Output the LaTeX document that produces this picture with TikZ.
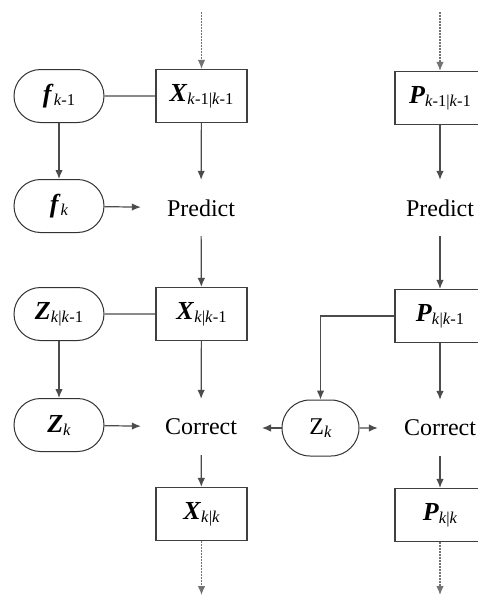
\documentclass[tikz,border=0pt]{standalone}
\usepackage{fontspec}
\setmainfont{Liberation Serif}
\usepackage{tikz}
\usetikzlibrary{arrows.meta, shapes.misc, positioning}

\newcommand{\bvec}[1]{{\fontsize{26}{28}\selectfont\textbf{\textit{#1}}}}
\newcommand{\sbs}[1]{\raisebox{-3pt}{\fontsize{16.5}{16}\selectfont #1}}
\newcommand{\kk}{\textit{k}}

\begin{document}
\begin{tikzpicture}[x=1pt, y=-1pt, >={Latex[length=9pt,width=7.5pt]},
    font=\fontsize{24}{28}\selectfont,
    line/.style={draw=black!70, line width=1.2pt},
    flow/.style={line, ->},
    nextstep/.style={draw=black!55, line width=1.2pt, dash pattern=on 2pt off 1pt, ->},
    statebox/.style={draw=black!75, line width=1.1pt, rectangle, minimum width=91pt, minimum height=53pt, inner sep=0pt},
    modelbox/.style={draw=black!80, line width=1pt, rounded rectangle, minimum width=90pt, minimum height=53pt, inner sep=0pt},
    stage/.style={minimum width=120pt, minimum height=56pt, inner sep=0pt}]
    \useasboundingbox (0,0) rectangle (477,597);

    % Zustand: linke Spalte
    \node[modelbox] (f1) at (59,96) {\bvec{f}\sbs{\kk-1}};
    \node[modelbox] (f2) at (59,206) {\bvec{f}\sbs{\kk}};
    \node[modelbox] (z1) at (59,314) {\bvec{Z}\sbs{\kk|\kk-1}};
    \node[modelbox] (z2) at (59,425) {\bvec{Z}\sbs{\kk}};

    \node[statebox] (x1) at (201.5,96) {\bvec{X}\sbs{\kk-1|\kk-1}};
    \node[stage] (pr1) at (201,208) {Predict};
    \node[statebox] (x2) at (201.5,314) {\bvec{X}\sbs{\kk|\kk-1}};
    \node[stage] (co1) at (201,427) {Correct};
    \node[statebox] (x3) at (201.5,514) {\bvec{X}\sbs{\kk|\kk}};

    % Kovarianz: rechte Spalte
    \node[statebox, minimum width=90pt] (p1) at (440,98) {\bvec{P}\sbs{\kk-1|\kk-1}};
    \node[stage] (pr2) at (440,208) {Predict};
    \node[statebox, minimum width=90pt] (p2) at (440,316) {\bvec{P}\sbs{\kk|\kk-1}};
    \node[stage, minimum width=124pt] (co2) at (440,428) {Correct};
    \node[statebox, minimum width=90pt] (p3) at (440,515) {\bvec{P}\sbs{\kk|\kk}};
    \node[modelbox, minimum width=77pt, minimum height=56pt] (zm) at (320.5,428) {Z\sbs{\kk}};

    \coordinate (xin) at (201.5,12);
    \coordinate (xout) at (201.5,595);
    \coordinate (pin) at (440,12);
    \coordinate (pout) at (440,595);
    \coordinate (zleft) at (262,428);

    % Verbindungen
    \draw[nextstep] (xin) -- (x1);
    \draw[nextstep] (pin) -- (p1);
    \draw[line] (f1) -- (x1);
    \draw[line] (z1) -- (x2);
    \draw[flow] (f1) -- (f2);
    \draw[flow] (z1) -- (z2);
    \draw[flow] (f2) -- (pr1);
    \draw[flow] (z2) -- (co1);
    \draw[flow] (x1) -- (pr1);
    \draw[flow] (pr1) -- (x2);
    \draw[flow] (x2) -- (co1);
    \draw[flow] (co1) -- (x3);
    \draw[nextstep] (x3) -- (xout);
    \draw[flow] (p1) -- (pr2);
    \draw[flow] (pr2) -- (p2);
    \draw[flow] (p2) -- (co2);
    \draw[flow] (co2) -- (p3);
    \draw[nextstep] (p3) -- (pout);
    \draw[flow] (p2.west) -| (zm.north);
    \draw[flow] (zm) -- (zleft);
    \draw[flow] (zm) -- (co2);
\end{tikzpicture}
\end{document}
